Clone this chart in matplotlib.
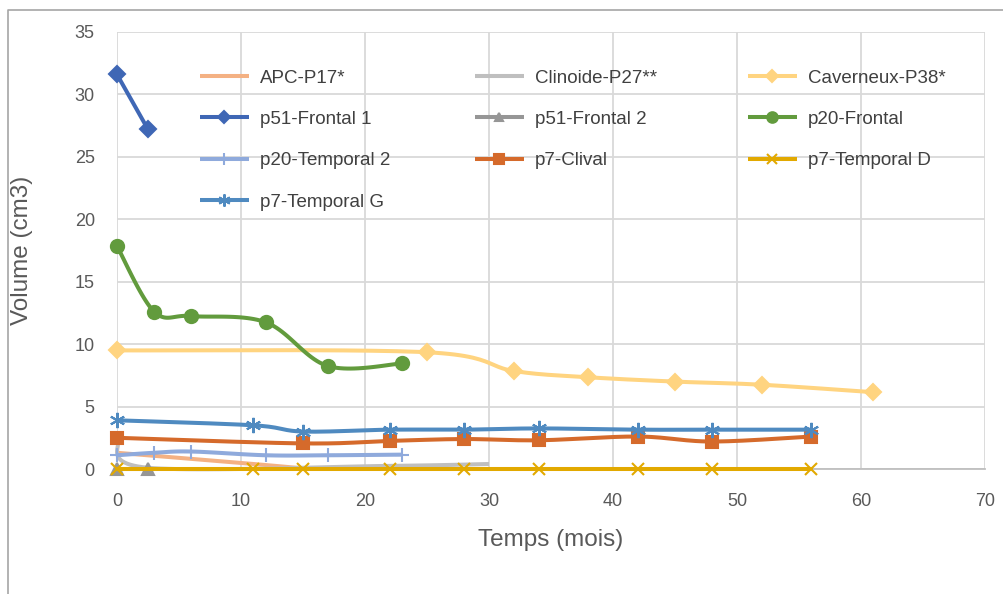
import numpy as np
import matplotlib
matplotlib.use("Agg")
import matplotlib.pyplot as plt
from matplotlib.lines import Line2D

plt.rcParams['font.family'] = ['Liberation Sans', 'DejaVu Sans']

# ---------------- data (months, volume cm3) ----------------
apc_x = [0, 11, 15]
apc_y = [1.3, 0.4, 0.05]
clin_x = [0, 2.5, 22, 30]
clin_y = [2.2, 0.1, 0.25, 0.4]
cav_x = [0, 25, 32, 38, 45, 52, 61]
cav_y = [9.5, 9.35, 7.85, 7.35, 7.0, 6.75, 6.15]
f51a_x = [0, 2.5]
f51a_y = [31.6, 27.2]
f51b_x = [0, 2.5]
f51b_y = [0.0, 0.0]
f20_x = [0, 3, 6, 12, 17, 23]
f20_y = [17.85, 12.6, 12.25, 11.75, 8.25, 8.45]
t20_x = [0, 3, 6, 12, 17, 23]
t20_y = [1.1, 1.3, 1.4, 1.1, 1.1, 1.15]
clv_x = [0, 15, 22, 28, 34, 42, 48, 56]
clv_y = [2.5, 2.05, 2.25, 2.4, 2.3, 2.6, 2.2, 2.6]
td_x = [0, 11, 15, 22, 28, 34, 42, 48, 56]
td_y = [0, 0, 0, 0, 0, 0, 0, 0, 0]
tg_x = [0, 11, 15, 22, 28, 34, 42, 48, 56]
tg_y = [3.9, 3.5, 3.0, 3.15, 3.15, 3.25, 3.15, 3.15, 3.15]

x_ticks = [0, 10, 20, 30, 40, 50, 60, 70]
y_ticks = [0, 5, 10, 15, 20, 25, 30, 35]

N = 24


def smooth(xs, ys):
    """Catmull-Rom style Bezier smoothing (like Excel smoothed lines)."""
    P = np.column_stack([xs, ys]).astype(float)
    if len(P) < 3:
        return P[:, 0], P[:, 1]
    pts = [P[0]]
    for i in range(len(P) - 1):
        p0 = P[i - 1] if i > 0 else P[i]
        p1 = P[i]
        p2 = P[i + 1]
        p3 = P[i + 2] if i + 2 < len(P) else P[i + 1]
        c1 = p1 + (p2 - p0) / 6.0
        c2 = p2 - (p3 - p1) / 6.0
        t = np.linspace(0, 1, N + 1)[1:][:, None]
        seg = ((1 - t) ** 3) * p1 + 3 * ((1 - t) ** 2) * t * c1 + 3 * (1 - t) * t ** 2 * c2 + t ** 3 * p2
        pts.extend(seg)
    pts = np.array(pts)
    return pts[:, 0], pts[:, 1]


W, H = 1004, 594
fig = plt.figure(figsize=(W / 100, H / 100), dpi=100)
L, R, T, B = 117, 985, 32, 469
ax = fig.add_axes([L / W, 1 - B / H, (R - L) / W, (B - T) / H])

lw = 2.9
series = [
    ("APC-P17*", apc_x, apc_y, "#F4B183", None, 0),
    ("Clinoide-P27**", clin_x, clin_y, "#BFBFBF", None, 0),
    ("Caverneux-P38*", cav_x, cav_y, "#FFD480", "D", 8),
    ("p51-Frontal 1", f51a_x, f51a_y, "#3F67B5", "D", 8),
    ("p51-Frontal 2", f51b_x, f51b_y, "#969696", "^", 8),
    ("p20-Frontal", f20_x, f20_y, "#629B3D", "o", 9.5),
    ("p20-Temporal 2", t20_x, t20_y, "#8FAADC", "+", 10),
    ("p7-Clival", clv_x, clv_y, "#D56A2B", "s", 9),
    ("p7-Temporal D", td_x, td_y, "#E2A900", "x", 9),
    ("p7-Temporal G", tg_x, tg_y, "#4F8AC0", (6, 2, 0), 11),
]

handles = {}
for name, xs, ys, col, mk, ms in series:
    sx, sy = smooth(xs, ys)
    if len(xs) >= 3:
        me = [k * N for k in range(len(xs))]
    else:
        me = None
    kw = dict(color=col, lw=lw, solid_capstyle='butt', label=name, clip_on=False, zorder=3)
    if mk is not None:
        kw.update(marker=mk, markersize=ms, markevery=me, markerfacecolor=col,
                  markeredgecolor=col, markeredgewidth=1.5)
    ln, = ax.plot(sx, sy, **kw)
    handles[name] = ln

ax.set_xlim(0, 70)
ax.set_ylim(0, 35)
ax.set_xticks(x_ticks)
ax.set_yticks(y_ticks)
ax.grid(True, color="#D9D9D9", lw=1.3)
ax.set_axisbelow(True)
for s in ['top', 'right', 'left']:
    ax.spines[s].set_visible(False)
ax.spines['bottom'].set_color("#BFBFBF")
ax.spines['bottom'].set_linewidth(1.3)
ax.spines['bottom'].set_zorder(1)
ax.tick_params(length=0, labelsize=13, labelcolor="#595959", pad=17)
ax.tick_params(axis='y', pad=16)

ax.set_xlabel("Temps (mois)", fontsize=17.5, color="#595959", va='center')
ax.xaxis.set_label_coords(0.5, (B - 540) / (B - T))
ax.set_ylabel("Volume (cm3)", fontsize=17.5, color="#595959", va='center')
ax.yaxis.set_label_coords((22 - L) / (R - L), 0.5)

# legend: three columns placed like Excel
cols = [["APC-P17*", "p51-Frontal 1", "p20-Temporal 2", "p7-Temporal G"],
        ["Clinoide-P27**", "p51-Frontal 2", "p7-Clival"],
        ["Caverneux-P38*", "p20-Frontal", "p7-Temporal D"]]
col_x = [200, 475, 748]
for i, names in enumerate(cols):
    leg = ax.legend([handles[n] for n in names], names, loc='upper left',
                    bbox_to_anchor=(col_x[i] / W, 1 - 69.5 / H),
                    bbox_transform=fig.transFigure, frameon=False,
                    fontsize=13.5, handlelength=2.6, handletextpad=0.6,
                    labelspacing=1.29, borderpad=0, borderaxespad=0,
                    labelcolor="#404040", markerscale=0.8)
    if i < 2:
        ax.add_artist(leg)

# outer chart border (left and top visible)
fig.add_artist(Line2D([8 / W, 8 / W, 1.0], [0.0, 1 - 10 / H, 1 - 10 / H],
                      transform=fig.transFigure, color="#A6A6A6", lw=1.2))

fig.savefig("out.png", dpi=100)
